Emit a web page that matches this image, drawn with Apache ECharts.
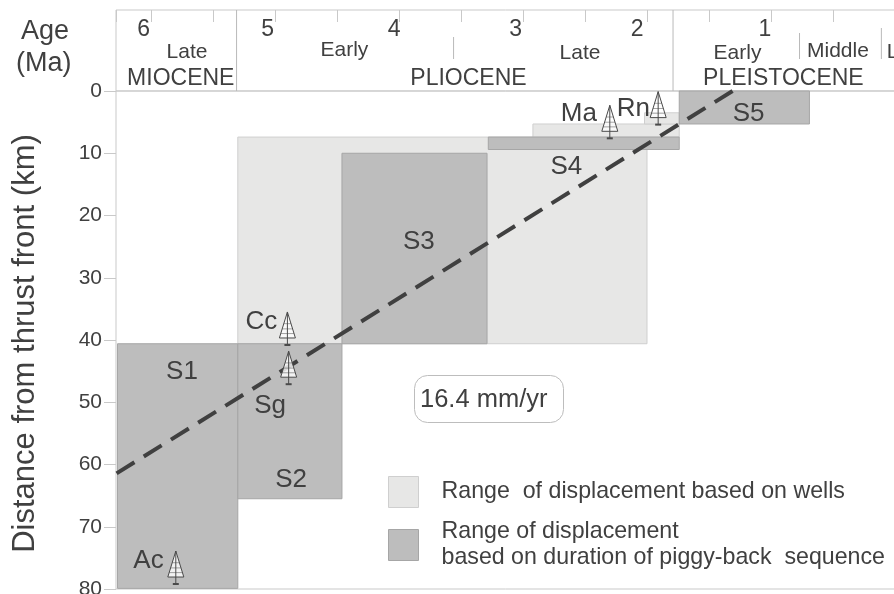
<!DOCTYPE html>
<html><head><meta charset="utf-8">
<style>html,body{margin:0;padding:0;background:#fff}#c{width:894px;height:594px}</style>
<script src="https://cdn.jsdelivr.net/npm/echarts@6/dist/echarts.min.js"></script>
</head><body><div id="c"></div>
<script>
// [ageOld, ageYoung, kmTop, kmBottom]
const wellRanges = [[5.30,2.00,7.4,40.6],[2.92,1.74,5.3,7.4],[2.02,1.74,3.5,5.3]];
const sequenceRanges = [[6.27,5.30,40.6,79.9],[5.30,4.46,40.6,65.5],[4.46,3.29,10,40.6],[3.28,1.74,7.4,9.4],[1.74,0.69,0,5.3]];
const rateLine = [[1.31,0],[6.30,61.7]];
// [age, km at foot of derrick]
const wells = [[5.80,79.2],[4.90,40.8],[4.89,47.1],[2.30,7.6],[1.91,5.4]];
const plotLabels = ['S1','S2','S3','S4','S5','Ac','Cc','Sg','Ma','Rn'];
const plotAges = [5.75,4.87,3.84,2.65,1.18,6.02,5.11,5.04,2.55,2.11];
const plotKms = [45.1,62.5,24.2,12.2,3.7,75.5,37.1,50.6,3.7,2.9];
const yTicks = [0,10,20,30,40,50,60,70,80];
// header
const ageLabels = ['6','5','4','3','2','1'];
const ageLabelX = [6.06,5.06,4.04,3.06,2.08,1.05];
const stageLabels = ['Late','Early','Late','Early','Middle','L'];
const stageLabelX = [5.71,4.44,2.54,1.27,0.46,0.02];
const stageLabelY = [42,40,43,43,41,42];
const epochLabels = ['MIOCENE','PLIOCENE','PLEISTOCENE'];
const epochLabelX = [5.76,3.44,0.90];
const dividers = [[5.31,0,81],[1.79,0,81],[3.56,27,49],[0.77,23,49],[0.11,18,49]];
const legendWells = 'Range  of displacement based on wells';
const legendSeq = 'Range of displacement\nbased on duration of piggy-back  sequence';
const rateText = '16.4 mm/yr';

const TXT='#404040', FONT='"Liberation Sans", Arial, sans-serif', GRID='#c9c9c9';
const LIGHT='#e7e7e6', LIGHTB='#cfcfcf', DARK='#bdbdbd', DARKB='#a6a6a6';

function rectItem(fill,stroke){
  return (p,api)=>{
    const a=api.coord([api.value(0),api.value(2)]), b=api.coord([api.value(1),api.value(3)]);
    return {type:'rect',shape:{x:a[0],y:a[1],width:b[0]-a[0],height:b[1]-a[1]},style:{fill,stroke,lineWidth:1}};
  };
}
function textItem(size){
  return (p,api)=>{
    const c=api.coord([api.value(1),api.value(2)]);
    return {type:'text',style:{x:c[0],y:c[1],text:api.value(0),fill:TXT,font:size+'px '+FONT,align:'center',verticalAlign:'middle'}};
  };
}
function wellItem(p,api){
  const c=api.coord([api.value(0),api.value(1)]), x=c[0], foot=c[1], apex=foot-33, base=foot-7, s='#4a4a4a';
  const ln=(x1,y1,x2,y2,w)=>({type:'line',shape:{x1,y1,x2,y2},style:{stroke:s,lineWidth:w||1}});
  const kids=[{type:'polygon',shape:{points:[[x,apex],[x-8,base],[x+8,base]]},style:{fill:'rgba(255,255,255,0.8)',stroke:s,lineWidth:1}},
    ln(x,apex,x,foot),ln(x-3,foot,x+3,foot,2)];
  [0.45,0.65,0.83].forEach(t=>{const y=apex+t*26,h=8*t;kids.push(ln(x-h,y,x+h,y,0.5));});
  return {type:'group',children:kids};
}
const chart=echarts.init(document.getElementById('c'),null,{renderer:'canvas'});
chart.setOption({
  animation:false,
  backgroundColor:'#fff',
  textStyle:{fontFamily:FONT,color:TXT},
  grid:[
    {left:116,top:91,width:779,height:498,outerBoundsMode:'none',show:true,borderColor:GRID,borderWidth:1,backgroundColor:'transparent'},
    {left:116,top:10,width:779,height:81,outerBoundsMode:'none',show:true,borderColor:GRID,borderWidth:1,backgroundColor:'transparent'}
  ],
  xAxis:[
    {gridIndex:0,type:'value',inverse:true,min:0,max:6.2823,position:'top',axisLine:{show:false,onZero:false},axisTick:{show:false},axisLabel:{show:false},splitLine:{show:false}},
    {gridIndex:1,type:'value',inverse:true,min:0,max:6.2823,interval:0.5,position:'top',axisLine:{show:false,onZero:false},
      axisTick:{show:true,inside:true,length:12,lineStyle:{color:GRID,width:1}},axisLabel:{show:false},splitLine:{show:false}}
  ],
  yAxis:[
    {gridIndex:0,type:'value',inverse:true,position:'left',min:yTicks[0],max:yTicks[yTicks.length-1],interval:10,
      axisLine:{show:false,onZero:false},axisTick:{show:true,length:12,lineStyle:{color:GRID,width:1}},
      axisLabel:{color:TXT,fontSize:21,margin:14,fontFamily:FONT},splitLine:{show:false},
      name:'Distance from thrust front (km)',nameLocation:'middle',nameGap:75,nameRotate:90,
      nameTextStyle:{color:TXT,fontSize:31,fontFamily:FONT,padding:[0,7,0,0]}},
    {gridIndex:1,type:'value',inverse:true,min:0,max:81,show:false}
  ],
  legend:{show:true,orient:'vertical',left:388,top:476,height:118,width:506,padding:0,itemWidth:30,itemHeight:31,itemGap:11,selectedMode:false,
    textStyle:{color:TXT,fontSize:23.2,fontFamily:FONT,lineHeight:26,padding:[0,0,0,18]},
    data:[{name:legendWells,icon:'rect',itemStyle:{color:LIGHT,borderColor:LIGHTB,borderWidth:1}},
          {name:legendSeq,icon:'rect',itemStyle:{color:DARK,borderColor:DARKB,borderWidth:1}}]},
  graphic:[
    {type:'text',left:21,top:18,style:{text:'Age',fill:TXT,font:'27px '+FONT}},
    {type:'text',left:16,top:50,style:{text:'(Ma)',fill:TXT,font:'27px '+FONT}},
    {type:'rect',left:414,top:375,shape:{width:149,height:47,r:13},style:{fill:'#fff',stroke:'#bdbdbd',lineWidth:1},z:5},
    {type:'text',left:420,top:387,style:{text:rateText,fill:TXT,font:'25.5px '+FONT},z:6}
  ],
  series:[
    {type:'custom',name:legendWells,xAxisIndex:0,yAxisIndex:0,clip:false,z:2,renderItem:rectItem(LIGHT,LIGHTB),data:wellRanges,itemStyle:{color:LIGHT}},
    {type:'custom',name:legendSeq,xAxisIndex:0,yAxisIndex:0,clip:false,z:3,renderItem:rectItem(DARK,DARKB),data:sequenceRanges,itemStyle:{color:DARK}},
    {type:'line',xAxisIndex:0,yAxisIndex:0,clip:false,z:4,showSymbol:false,silent:true,data:rateLine,
      lineStyle:{color:TXT,width:4,type:[21,11],cap:'butt'}},
    {type:'custom',xAxisIndex:0,yAxisIndex:0,clip:false,z:5,renderItem:wellItem,data:wells},
    {type:'custom',xAxisIndex:0,yAxisIndex:0,clip:false,z:6,renderItem:textItem(26),
      data:plotLabels.map((t,i)=>[t,plotAges[i],plotKms[i]]),encode:{x:1,y:2}},
    {type:'custom',xAxisIndex:1,yAxisIndex:1,clip:false,z:6,
      renderItem:(p,api)=>{const a=api.coord([api.value(0),api.value(1)]),b=api.coord([api.value(0),api.value(2)]);
        return {type:'line',shape:{x1:a[0],y1:a[1],x2:b[0],y2:b[1]},style:{stroke:'#b9b9b9',lineWidth:1}};},data:dividers},
    {type:'custom',xAxisIndex:1,yAxisIndex:1,clip:false,z:6,renderItem:textItem(23),
      data:ageLabels.map((t,i)=>[t,ageLabelX[i],20]),encode:{x:1,y:2}},
    {type:'custom',xAxisIndex:1,yAxisIndex:1,clip:false,z:6,renderItem:textItem(21),
      data:stageLabels.map((t,i)=>[t,stageLabelX[i],stageLabelY[i]]),encode:{x:1,y:2}},
    {type:'custom',xAxisIndex:1,yAxisIndex:1,clip:false,z:6,renderItem:textItem(23),
      data:epochLabels.map((t,i)=>[t,epochLabelX[i],69]),encode:{x:1,y:2}}
  ]
});
</script></body></html>
